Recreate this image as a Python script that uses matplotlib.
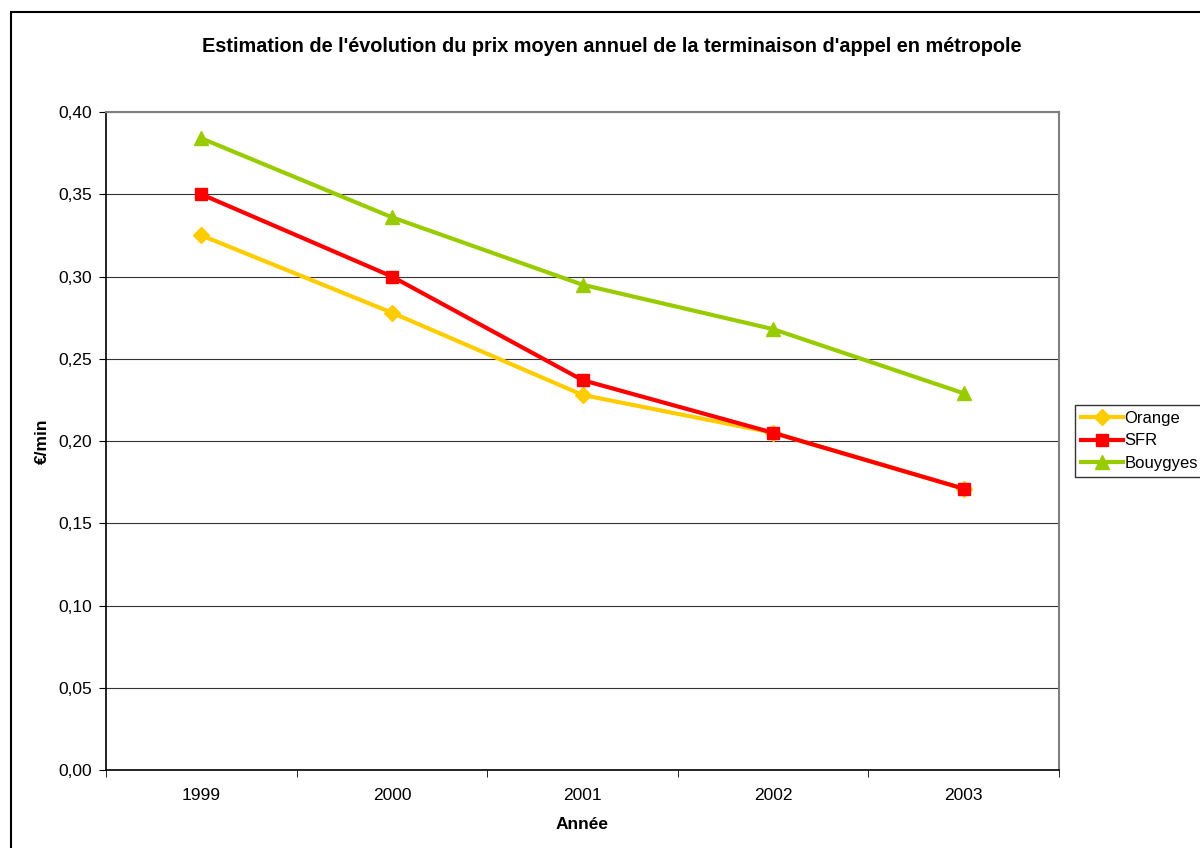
import matplotlib
matplotlib.use("Agg")
import matplotlib.pyplot as plt
import matplotlib.patches as mpatches
import numpy as np

plt.rcParams['font.family'] = ['Liberation Sans', 'DejaVu Sans']

annees = ["1999", "2000", "2001", "2002", "2003"]
orange = [0.325, 0.278, 0.228, 0.205, 0.171]
sfr = [0.350, 0.300, 0.237, 0.205, 0.171]
bouygues = [0.384, 0.336, 0.295, 0.268, 0.229]
yticks = [0.0, 0.05, 0.10, 0.15, 0.20, 0.25, 0.30, 0.35, 0.40]

fig = plt.figure(figsize=(12, 8.48), dpi=100)
ax = fig.add_axes([106/1200, 78/848, 953/1200, 658/848])

x = np.arange(len(annees))
l1, = ax.plot(x, orange, color="#FFCC00", lw=3, marker="D", ms=8, zorder=3, label="Orange")
l2, = ax.plot(x, sfr, color="#FF0000", lw=3, marker="s", ms=9, zorder=4, label="SFR")
l3, = ax.plot(x, bouygues, color="#99CC00", lw=3, marker="^", ms=10, zorder=5, label="Bouygyes")

ax.set_xlim(-0.5, len(annees) - 0.5)
ax.set_ylim(0, 0.40)
ax.set_yticks(yticks)
ax.set_yticklabels([("%.2f" % v).replace(".", ",") for v in yticks])
ax.set_xticks(x)
ax.set_xticklabels(annees)
ax.set_xticks(np.arange(-0.5, len(annees), 1.0), minor=True)
ax.tick_params(axis="x", which="major", length=0, pad=13, labelsize=12.5)
ax.tick_params(axis="x", which="minor", length=5, direction="out", color="black")
ax.tick_params(axis="y", length=5, direction="out", labelsize=12.5, pad=5)

ax.grid(axis="y", color="#333333", lw=0.8)
ax.set_axisbelow(True)
for s in ["top", "right"]:
    ax.spines[s].set_color("#808080")
    ax.spines[s].set_linewidth(1.5)
for s in ["left", "bottom"]:
    ax.spines[s].set_color("black")
    ax.spines[s].set_linewidth(1.2)

ax.set_xlabel("Année", fontsize=12.5, fontweight="bold", labelpad=10)
ax.set_ylabel("€/min", fontsize=12.5, fontweight="bold", labelpad=10)
ax.yaxis.set_label_coords(-56/953, 0.5)

fig.text(612/1200, 1 - 46/848, "Estimation de l'évolution du prix moyen annuel de la terminaison d'appel en métropole",
         ha="center", va="center", fontsize=14.3, fontweight="bold")

leg = fig.legend(handles=[l1, l2, l3], loc="center left", bbox_to_anchor=(1075/1200, 1 - 441/848),
                 fontsize=12, frameon=True, fancybox=False, handlelength=2.5, handletextpad=0.1,
                 borderpad=0.35, labelspacing=0.45, borderaxespad=0)
leg.get_frame().set_edgecolor("black")
leg.get_frame().set_linewidth(1.0)

# cadre du graphique
fig.patches.append(mpatches.Rectangle((11/1200, -0.1), 1.2, 1 - 12/848 + 0.1, transform=fig.transFigure,
                                      fill=False, edgecolor="black", lw=1.5))

fig.savefig("out.png", dpi=100)
